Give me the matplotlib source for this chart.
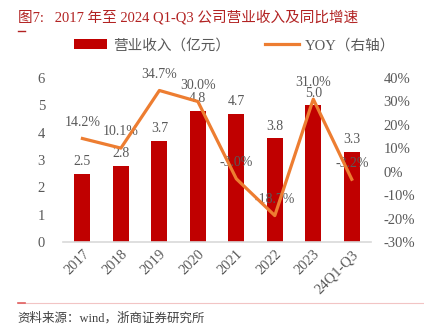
import matplotlib
matplotlib.use("Agg")
import matplotlib.pyplot as plt
from matplotlib.lines import Line2D
from matplotlib.patches import Patch

plt.rcParams['font.family'] = ['Liberation Serif', 'Noto Sans CJK SC']

# data
categories = ["2017", "2018", "2019", "2020", "2021", "2022", "2023", "24Q1-Q3"]
revenue = [2.5, 2.8, 3.7, 4.8, 4.7, 3.8, 5.0, 3.3]
yoy = [14.2, 10.1, 34.7, 30.0, -3.0, -18.7, 31.0, -3.2]

bar_color = "#C00000"
line_color = "#ED7D31"
text_grey = "#595959"

fig = plt.figure(figsize=(4.24, 3.28), dpi=100)
ax = fig.add_axes([0.149, 0.262, 0.726, 0.500])
ax2 = ax.twinx()

x = list(range(len(categories)))
ax.bar(x, revenue, width=0.42, color=bar_color, zorder=2)
ax.set_ylim(0, 6)
ax.set_xlim(-0.5, len(categories) - 0.5)
ax2.set_ylim(-30, 40)
ax2.plot(x, yoy, color=line_color, linewidth=2.3, zorder=3)

# bar labels
for xi, v in zip(x, revenue):
    ax.annotate(f"{v:.1f}", (xi, v), xytext=(0, 4), textcoords="offset points",
                ha="center", va="bottom", fontsize=10, color=text_grey)
# line labels
for xi, v in zip(x, yoy):
    ax2.annotate(f"{v:.1f}%", (xi, v), xytext=(0, 7), textcoords="offset points",
                 ha="center", va="bottom", fontsize=10, color=text_grey, zorder=1)

ax.set_yticks(range(0, 7))
ax2.set_yticks(range(-30, 41, 10))
ax2.set_yticklabels([f"{t}%" for t in range(-30, 41, 10)])
ax.set_xticks(x)
ax.set_xticklabels(categories, rotation=45, ha="right", rotation_mode="anchor")

for a in (ax, ax2):
    for s in a.spines.values():
        s.set_visible(False)
    a.tick_params(length=0, labelsize=10.5, colors=text_grey)
ax.spines['bottom'].set_visible(True)
ax.spines['bottom'].set_color("#D9D9D9")
ax.spines['bottom'].set_linewidth(1.2)
ax.tick_params(axis='y', pad=13)
ax2.tick_params(axis='y', pad=9)
ax.tick_params(axis='x', pad=4)

# legend
handles = [Patch(facecolor=bar_color), Line2D([0], [0], color=line_color, linewidth=2.3)]
fig.legend(handles, ["营业收入（亿元）", "YOY（右轴）"], loc="center", bbox_to_anchor=(0.553, 0.862),
           ncol=2, frameon=False, fontsize=10.5, labelcolor=text_grey,
           handlelength=2.3, handleheight=0.6, columnspacing=2.4, handletextpad=0.4)

# title
fig.text(0.042, 0.947, "图7:   2017 年至 2024 Q1-Q3 公司营业收入及同比增速", fontsize=10.5,
         color="#B22222", ha="left", va="center")
fig.add_artist(Line2D([0.042, 0.060], [0.905, 0.905], color="#B22222", linewidth=1))

# footer
fig.add_artist(Line2D([0.042, 1.0], [0.076, 0.076], color="#F2C4C4", linewidth=0.8))
fig.add_artist(Line2D([0.042, 0.060], [0.076, 0.076], color="#E06060", linewidth=1.2))
fig.text(0.042, 0.030, "资料来源：wind，浙商证券研究所", fontsize=9, color="#404040",
         ha="left", va="center")

fig.savefig("out.png", dpi=100)
